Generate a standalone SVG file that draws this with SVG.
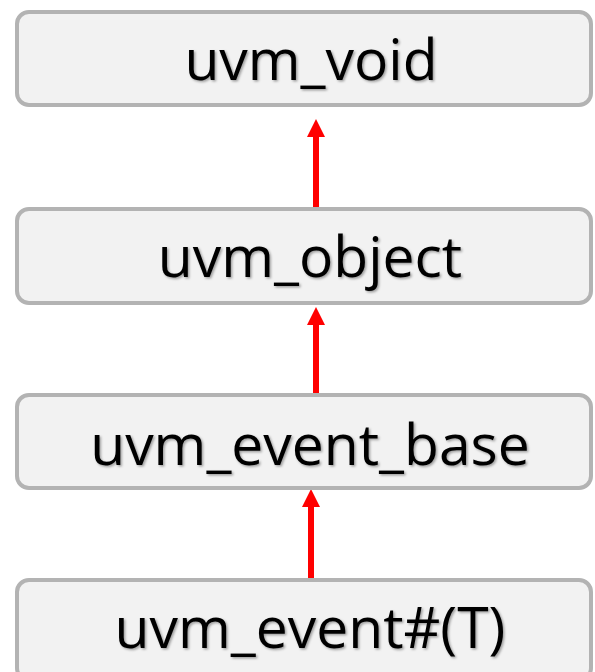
<svg xmlns="http://www.w3.org/2000/svg" width="595" height="672" viewBox="0 0 595 672">
<style>
.box{fill:#f2f2f2;stroke:#b3b3b3;stroke-width:4}
.lbl{font-family:"Open Sans","Noto Sans",sans-serif;font-size:57px;fill:#000;text-anchor:middle}
.conn{stroke:#ff0000;stroke-width:6;fill:none}
</style>
<defs>
<marker id="ah" markerWidth="3" markerHeight="3" refX="0" refY="1.5" orient="auto" markerUnits="strokeWidth">
<path d="M0,0 L3,1.5 L0,3 Z" fill="#ff0000"/>
</marker>
<filter id="sh" x="-5%" y="-5%" width="110%" height="120%">
<feDropShadow dx="1.5" dy="1.5" stdDeviation="1" flood-color="#000" flood-opacity="0.35"/>
</filter>
</defs>
<g id="connectors">
<line class="conn" x1="316" y1="208" x2="316" y2="137" marker-end="url(#ah)"/>
<line class="conn" x1="316" y1="395" x2="316" y2="325" marker-end="url(#ah)"/>
<line class="conn" x1="311" y1="579" x2="311" y2="507" marker-end="url(#ah)"/>
</g>
<g id="uvm_void">
<rect class="box" x="17" y="12" width="574" height="93" rx="12"/>
<text class="lbl" x="311" y="80" filter="url(#sh)">uvm_void</text>
</g>
<g id="uvm_object">
<rect class="box" x="17" y="209" width="574" height="94" rx="12"/>
<text class="lbl" x="310" y="277" filter="url(#sh)">uvm_object</text>
</g>
<g id="uvm_event_base">
<rect class="box" x="17" y="395" width="574" height="93" rx="12"/>
<text class="lbl" x="310" y="465" filter="url(#sh)">uvm_event_base</text>
</g>
<g id="uvm_event_T">
<rect class="box" x="17" y="580" width="574" height="100" rx="12"/>
<text class="lbl" x="310" y="648" filter="url(#sh)">uvm_event#(T)</text>
</g>
</svg>
